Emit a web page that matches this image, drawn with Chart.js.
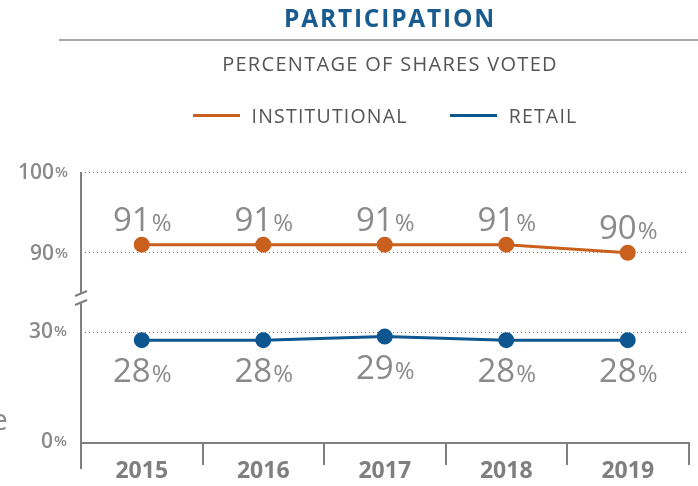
<!DOCTYPE html>
<html>
<head>
<meta charset="utf-8">
<script src="https://cdn.jsdelivr.net/npm/chart.js@4/dist/chart.umd.min.js"></script>
<style>
	body { margin: 0; background: #fff; font-family: 'Open Sans', sans-serif; }
	#wrap { position: relative; width: 698px; height: 486px; overflow: hidden; }
	#chart { position: absolute; left: 0; top: 0; }
	.title { position: absolute; left: 82px; right: 0; top: 1px; text-align: center; font-weight: 700; font-size: 24.5px; letter-spacing: 1.8px; color: #1a5b8f; }
	.rule { position: absolute; left: 59px; right: 0; top: 39px; height: 2px; background: #a3a9ae; }
	.sub { position: absolute; left: 82px; right: 0; top: 50px; text-align: center; font-size: 20px; letter-spacing: 1.3px; color: #555; }
	#legend { position: absolute; left: 72px; right: 0; top: 102px; display: flex; justify-content: center; gap: 42px; font-size: 19.5px; letter-spacing: 1.2px; color: #555; }
	#legend div { display: flex; align-items: center; }
	#legend i { display: inline-block; width: 47px; height: 3px; margin-right: 12px; }
</style>
</head>
<body>
<div id="wrap">
	<canvas id="chart" width="698" height="486"></canvas>
	<div class="title">PARTICIPATION</div>
	<div class="rule"></div>
	<div class="sub">PERCENTAGE OF SHARES VOTED</div>
	<div id="legend"></div>
</div>
<script>
const years = ['2015', '2016', '2017', '2018', '2019'];
const institutional = [91, 91, 91, 91, 90];
const retail = [28, 28, 29, 28, 28];
const topTicks = [90, 100];
const bottomTicks = [0, 30];
const seriesNames = ['INSTITUTIONAL', 'RETAIL'];
const seriesColors = ['#c9601e', '#0d5690'];

const grey = '#8a8a8a';
const axisGrey = '#7f7f7f';

// legend
document.getElementById('legend').innerHTML = seriesNames.map((n, i) =>
	`<div><i style="background:${seriesColors[i]}"></i>${n}</div>`).join('');

// number with smaller % sign
function pct(ctx, v, x, y, big, small, weight, align) {
	const num = String(v);
	ctx.font = `${weight} ${big}px 'Open Sans'`;
	const w1 = ctx.measureText(num).width;
	ctx.font = `${weight} ${small}px 'Open Sans'`;
	const w2 = ctx.measureText('%').width;
	let x0 = align === 'right' ? x - w1 - w2 : x - (w1 + w2) / 2;
	ctx.textAlign = 'left';
	ctx.font = `${weight} ${big}px 'Open Sans'`;
	ctx.fillText(num, x0, y);
	ctx.font = `${weight} ${small}px 'Open Sans'`;
	ctx.fillText('%', x0 + w1 + 1, y);
}

const extras = {
	id: 'extras',
	afterDraw(chart) {
		const ctx = chart.ctx;
		const { yTop, yBot } = chart.scales;
		const area = chart.chartArea;
		const brk = yTop.bottom;
		ctx.save();
		// left axis with break
		ctx.strokeStyle = axisGrey;
		ctx.lineWidth = 2;
		ctx.beginPath();
		ctx.moveTo(area.left, area.top);
		ctx.lineTo(area.left, brk - 5);
		ctx.moveTo(area.left - 6, brk - 2);
		ctx.lineTo(area.left + 6, brk - 7);
		ctx.moveTo(area.left - 6, brk + 7);
		ctx.lineTo(area.left + 6, brk + 2);
		ctx.moveTo(area.left, brk + 5);
		ctx.lineTo(area.left, area.bottom + 26);
		ctx.stroke();

		// y tick labels
		ctx.fillStyle = grey;
		ctx.textBaseline = 'middle';
		topTicks.forEach(v => pct(ctx, v, 67, yTop.getPixelForValue(v) + 1, 21, 15, 600, 'right'));
		bottomTicks.forEach(v => pct(ctx, v, 66, yBot.getPixelForValue(v) - 1, 21, 15, 600, 'right'));

		// data labels
		ctx.textBaseline = 'alphabetic';
		chart.getDatasetMeta(0).data.forEach((p, i) => pct(ctx, institutional[i], p.x, p.y - 14, 33, 24, 400));
		chart.getDatasetMeta(1).data.forEach((p, i) => pct(ctx, retail[i], p.x, p.y + 42, 33, 24, 400));

		// clipped letter at the left edge
		ctx.font = "400 30px 'Open Sans'";
		ctx.fillText('e', -9, 430);
		ctx.restore();
	}
};

new Chart(document.getElementById('chart'), {
	type: 'line',
	data: {
		labels: years,
		datasets: [
			{
				label: seriesNames[0],
				data: institutional,
				yAxisID: 'yTop',
				borderColor: seriesColors[0],
				backgroundColor: seriesColors[0],
				borderWidth: 3,
				pointRadius: 6.5,
				pointHoverRadius: 6.5,
				tension: 0,
			},
			{
				label: seriesNames[1],
				data: retail,
				yAxisID: 'yBot',
				borderColor: seriesColors[1],
				backgroundColor: seriesColors[1],
				borderWidth: 3,
				pointRadius: 6.5,
				pointHoverRadius: 6.5,
				tension: 0,
			},
		],
	},
	options: {
		responsive: false,
		animation: false,
		layout: { padding: { left: 81, top: 172, right: 0, bottom: 0 } },
		plugins: { legend: { display: false }, tooltip: { enabled: false } },
		scales: {
			x: {
				offset: true,
				afterFit: s => { s.height = 43; },
				grid: { offset: true, drawOnChartArea: false, tickLength: 22, color: axisGrey, lineWidth: 2 },
				border: { color: axisGrey, width: 2 },
				ticks: { color: axisGrey, padding: -7, font: { family: 'Open Sans', size: 23, weight: 700 } },
			},
			// first scale in the stack sits at the bottom
			yBot: {
				type: 'linear',
				position: 'left',
				stack: 'v',
				stackWeight: 145,
				min: 0,
				max: 39.5,
				afterBuildTicks: s => { s.ticks = bottomTicks.map(v => ({ value: v })); },
				afterFit: s => { s.width = 0; },
				ticks: { display: false },
				grid: { drawTicks: false, lineWidth: 1, color: c => c.tick && c.tick.value === 0 ? 'rgba(0,0,0,0)' : '#777' },
				border: { display: false, dash: [1, 3] },
			},
			yTop: {
				type: 'linear',
				position: 'left',
				stack: 'v',
				stackWeight: 126,
				min: 84.4,
				max: 100,
				afterBuildTicks: s => { s.ticks = topTicks.map(v => ({ value: v })); },
				afterFit: s => { s.width = 0; },
				ticks: { display: false },
				grid: { drawTicks: false, color: '#777', lineWidth: 1 },
				border: { display: false, dash: [1, 3] },
			},
		},
	},
	plugins: [extras],
});
</script>
</body>
</html>
